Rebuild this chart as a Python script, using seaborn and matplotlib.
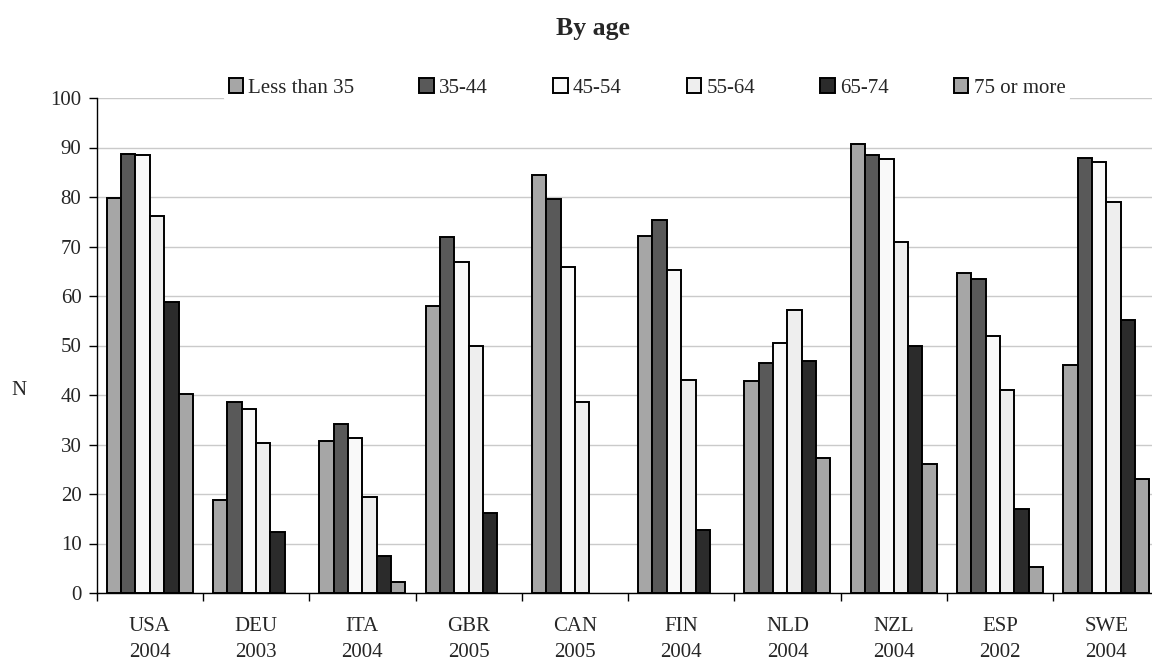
import numpy as np
import pandas as pd
import matplotlib
matplotlib.use("Agg")
import matplotlib.pyplot as plt
import seaborn as sns

# Countries with survey year, as shown under each group
countries = ["USA\n2004", "DEU\n2003", "ITA\n2004", "GBR\n2005", "CAN\n2005",
             "FIN\n2004", "NLD\n2004", "NZL\n2004", "ESP\n2002", "SWE\n2004"]
age_groups = ["Less than 35", "35-44", "45-54", "55-64", "65-74", "75 or more"]

nan = np.nan
less_than_35 = [79.8, 18.8, 30.8, 58.0, 84.5, 72.1, 42.9, 90.7, 64.7, 46.0]
age_35_44 = [88.6, 38.6, 34.1, 72.0, 79.6, 75.3, 46.4, 88.4, 63.5, 87.9]
age_45_54 = [88.4, 37.2, 31.3, 66.9, 65.9, 65.2, 50.5, 87.6, 51.9, 87.0]
age_55_64 = [76.2, 30.4, 19.3, 49.9, 38.6, 43.1, 57.1, 70.9, 41.0, 79.0]
age_65_74 = [58.8, 12.3, 7.5, 16.1, nan, 12.7, 46.8, 49.9, 17.0, 55.1]
age_75_plus = [40.2, nan, 2.2, nan, nan, nan, 27.3, 26.0, 5.3, 23.0]

series = [less_than_35, age_35_44, age_45_54, age_55_64, age_65_74, age_75_plus]
colors = ["#A6A6A6", "#595959", "#F9F9F9", "#EEEEEE", "#2B2B2B", "#A6A6A6"]

rows = []
for grp, vals in zip(age_groups, series):
    for c, v in zip(countries, vals):
        rows.append({"country": c, "age": grp, "value": v})
df = pd.DataFrame(rows)

sns.set_theme(style="white")
plt.rcParams["font.family"] = ["Liberation Serif", "DejaVu Serif"]

W, H = 1152, 661
fig = plt.figure(figsize=(W / 100, H / 100), dpi=100)
x0, x1 = 96.7, 1159.4
y0, y1 = 593.0, 98.0
ax = fig.add_axes([x0 / W, 1 - y0 / H, (x1 - x0) / W, (y0 - y1) / H])

sns.barplot(data=df, x="country", y="value", hue="age", order=countries,
            hue_order=age_groups, palette=colors, width=0.81, gap=0,
            errorbar=None, edgecolor="black", linewidth=1.4, ax=ax,
            zorder=3)

ax.set_xlim(-0.5, len(countries) - 0.5)
ax.set_ylim(0, 100)
ax.set_yticks(np.arange(0, 101, 10))
ax.yaxis.grid(True, color="#CACACA", linewidth=1.0, zorder=0)
ax.set_axisbelow(True)

for s in ["top", "right"]:
    ax.spines[s].set_visible(False)
for s in ["left", "bottom"]:
    ax.spines[s].set_color("black")
    ax.spines[s].set_linewidth(1.0)

ax.tick_params(axis="y", which="major", direction="out", length=6, width=1,
               color="black", labelsize=15, pad=5, left=True)
ax.tick_params(axis="x", which="major", length=0, labelsize=15, pad=17.5)
ax.set_xticks(np.arange(-0.5, len(countries), 1.0), minor=True)
ax.tick_params(axis="x", which="minor", direction="out", length=6, width=1,
               color="black", bottom=True)
for lab in ax.get_xticklabels():
    lab.set_linespacing(1.5)

ax.set_xlabel("")
ax.set_ylabel("N", fontsize=15, rotation=0)
ax.yaxis.set_label_coords(-0.073, 0.39)

handles, labels = ax.get_legend_handles_labels()
ax.get_legend().remove()
leg = fig.legend(handles, labels, loc="center", bbox_to_anchor=(647 / W, 1 - 88 / H),
                 ncol=6, frameon=True, fontsize=15, handlelength=0.7,
                 handleheight=0.7, handletextpad=0.25, columnspacing=3.12,
                 borderpad=0.2, borderaxespad=0)
leg.get_frame().set_facecolor("white")
leg.get_frame().set_edgecolor("none")
leg.get_frame().set_alpha(1)
for h in leg.legend_handles:
    h.set_edgecolor("black")
    h.set_linewidth(1.4)

fig.text(593 / W, 1 - 28 / H, "By age", ha="center", va="center",
         fontsize=18.5, fontweight="bold")

fig.savefig("out.png", dpi=100)
